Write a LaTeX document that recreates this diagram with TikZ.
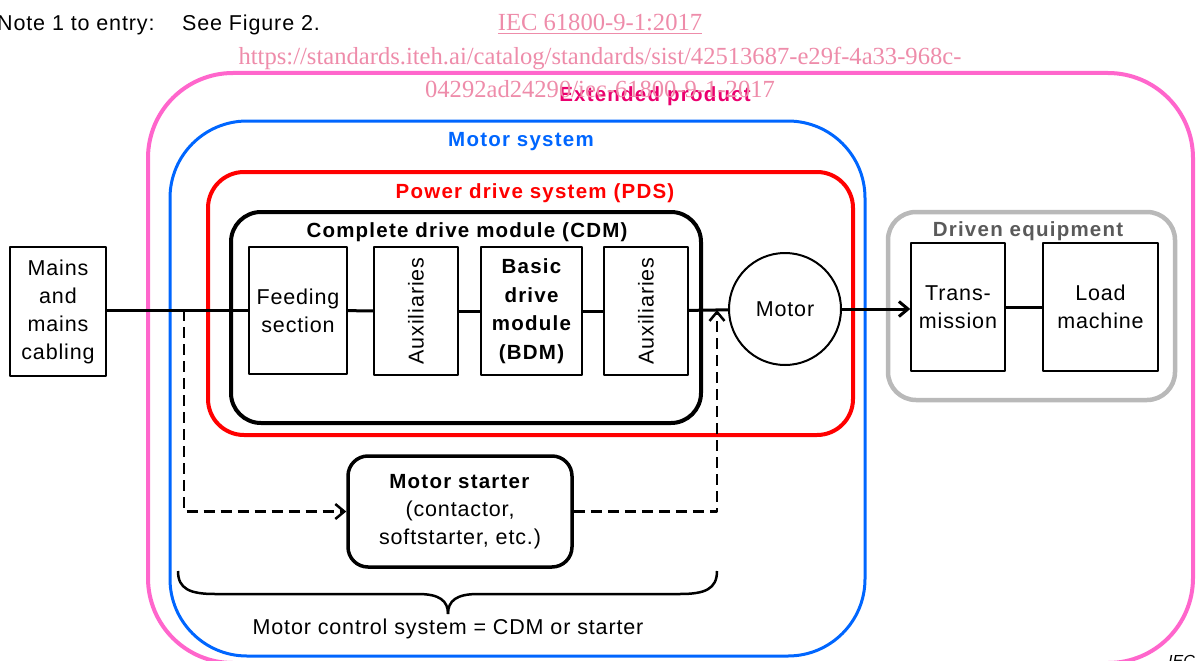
\documentclass[tikz,border=0pt]{standalone}
\usepackage{fontspec}
\setmainfont{Liberation Sans}
\newfontfamily\wmfont{Liberation Serif}
\usetikzlibrary{arrows.meta}

\definecolor{extpink}{RGB}{255,102,204}
\definecolor{msblue}{RGB}{0,102,255}
\definecolor{pdsred}{RGB}{255,0,0}
\definecolor{drvgray}{RGB}{185,185,185}
\definecolor{drvtext}{RGB}{90,90,90}
\definecolor{extlabel}{RGB}{235,0,110}
\definecolor{wmpink}{RGB}{238,140,170}

\tikzset{
  reg/.style={font=\fontsize{21.5}{28}\selectfont\addfontfeature{LetterSpace=4}},
  bld/.style={font=\fontsize{20.5}{28.5}\selectfont\bfseries\addfontfeature{LetterSpace=6}},
  wm/.style={font=\wmfont\fontsize{24.6}{33}\selectfont, text=wmpink, inner sep=0pt},
  blk/.style={draw, line width=1.5pt, reg, align=center, inner sep=0pt},
  frame/.style={line width=4pt},
  wire/.style={line width=3pt},
  dashwire/.style={line width=2.5pt, dash pattern=on 11pt off 6pt},
  barbend/.style={-{Straight Barb[length=9pt,width=15pt]}},
  lbl/.style={inner sep=0pt, anchor=center},
}

\begin{document}
\begin{tikzpicture}[x=1pt,y=-1pt,line join=round]
\useasboundingbox (0,0) rectangle (1202,661);

% nested system boundaries
\draw[frame, extpink, rounded corners=85pt] (148,73) rectangle (1193,663);
\draw[frame, msblue, line width=3pt, rounded corners=77pt] (170,121) rectangle (865,656);
\draw[frame, pdsred, rounded corners=36pt] (208,172) rectangle (853,435);
\draw[frame, black, rounded corners=30pt] (231,212) rectangle (701,423);
\draw[frame, drvgray, line width=4.5pt, rounded corners=28pt] (888,212) rectangle (1175,400);

% boundary titles
\node[lbl, bld, text=extlabel] (extlbl) at (655,96) {Extended product};
\node[lbl, bld, text=msblue] (mslbl) at (521,142) {Motor system};
\node[lbl, bld, text=pdsred] (pdslbl) at (535,193) {Power drive system (PDS)};
\node[lbl, bld] (cdmlbl) at (467,232) {Complete drive module (CDM)};
\node[lbl, bld, text=drvtext] (drvlbl) at (1028,231) {Driven equipment};

% blocks
\node[blk, minimum width=96pt, minimum height=129pt] (mains) at (58,311.5) {Mains\\and\\mains\\cabling};
\node[blk, minimum width=98pt, minimum height=127pt] (feed) at (298,310.5) {Feeding\\section};
\node[blk, minimum width=84pt, minimum height=128pt] (aux1) at (416,311) {};
\node[reg, rotate=90, inner sep=0pt] (aux1txt) at (aux1.center) {Auxiliaries};
\node[blk, minimum width=101pt, minimum height=128pt, bld] (bdm) at (531.5,311) {Basic\\drive\\module\\(BDM)};
\node[blk, minimum width=84pt, minimum height=128pt] (aux2) at (646,311) {};
\node[reg, rotate=90, inner sep=0pt] (aux2txt) at (aux2.center) {Auxiliaries};
\node[draw, circle, line width=2pt, minimum size=112pt, reg, inner sep=0pt] (motor) at (785,309) {Motor};
\node[blk, minimum width=94pt, minimum height=128pt] (trans) at (958,307) {Trans-\\mission};
\node[blk, minimum width=115pt, minimum height=128pt] (load) at (1100.5,307) {Load\\machine};
\node[blk, draw, line width=3.5pt, rounded corners=20pt, minimum width=224pt, minimum height=111pt]
  (starter) at (460,511.5) {\textbf{\addfontfeature{LetterSpace=6}\fontsize{20.5}{28}\selectfont Motor starter}\\(contactor,\\softstarter, etc.)};

% power path
\coordinate (br1) at (184,310);
\coordinate (br2) at (717,310);
\draw[wire] (mains.east |- br1) -- (feed.west |- br1);
\draw[wire] (feed) -- (aux1);
\draw[wire] (aux1) -- (bdm);
\draw[wire] (bdm) -- (aux2);
\draw[wire] (aux2) -- (motor);
\draw[wire, barbend] (motor.east) -- (motor.east -| trans.west);
\draw[wire] (trans) -- (load);

% alternative path through the starter
\draw[dashwire, barbend] (br1) |- (starter.west);
\draw[dashwire, barbend] (starter.east) -| (br2);

% brace grouping CDM and starter
\coordinate (bl) at (178,571);
\coordinate (bt) at (448,614);
\coordinate (brr) at (717,571);
\draw[line width=2.5pt] (bl) .. controls (178,589) and (190,594) .. (215,594) -- (418,594)
  .. controls (440,594) and (448,601) .. (bt);
\draw[line width=2.5pt] (brr) .. controls (717,589) and (705,594) .. (680,594) -- (478,594)
  .. controls (456,594) and (448,601) .. (bt);
\node[lbl, reg] (mcs) at (448,629) {Motor control system = CDM or starter};

% header line and document marks
\node[reg, inner sep=0pt, anchor=base west] (note) at (-3,31) {Note 1 to entry:};
\node[reg, inner sep=0pt, anchor=base west] (see) at (182,31) {See Figure 2.};
\node[wm, anchor=base] (wm1) at (600,31) {\underline{IEC 61800-9-1:2017}};
\node[wm, anchor=base] (wm2) at (600,64) {https://standards.iteh.ai/catalog/standards/sist/42513687-e29f-4a33-968c-};
\node[wm, anchor=base] (wm3) at (600,97) {04292ad24290/iec-61800-9-1-2017};
\node[inner sep=0pt, anchor=base west, font=\fontsize{16}{18}\selectfont\itshape] (iec) at (1168,666) {IEC};
\end{tikzpicture}
\end{document}
